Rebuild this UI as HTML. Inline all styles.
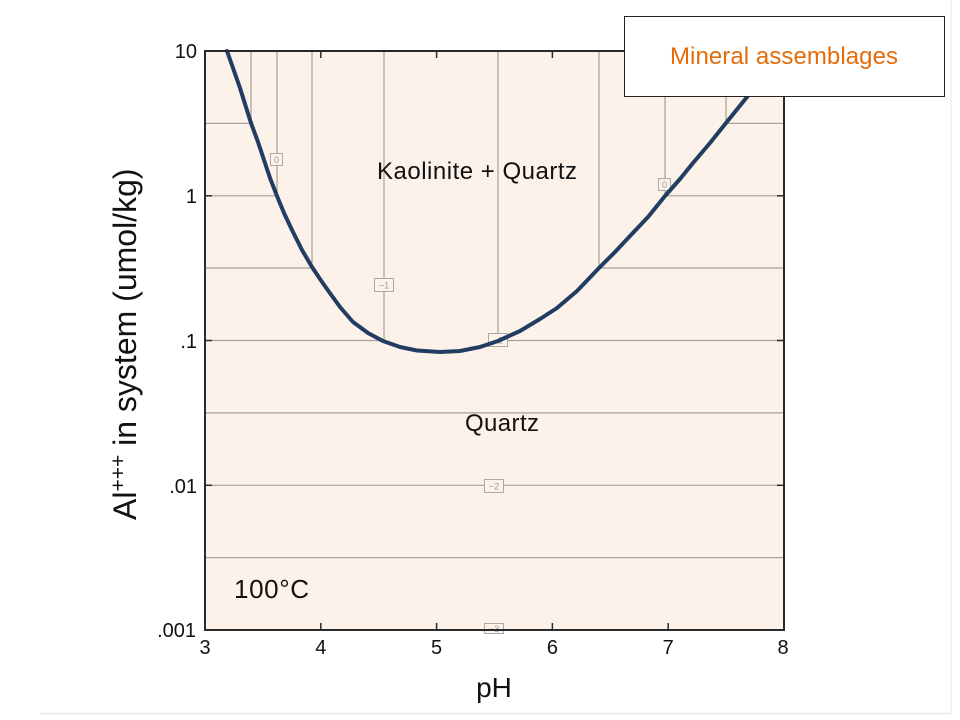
<!DOCTYPE html>
<html>
<head>
<meta charset="utf-8">
<style>
  html, body { margin: 0; padding: 0; background: #ffffff; }
  svg { display: block; }
  text { font-family: "Liberation Sans", Arial, sans-serif; }
</style>
</head>
<body>
<svg width="960" height="720" viewBox="0 0 960 720" xmlns="http://www.w3.org/2000/svg">
  <!-- slide frame -->
  <line x1="40" y1="713.5" x2="951" y2="713.5" stroke="#e6e6e6" stroke-width="1.5"/>
  <line x1="951" y1="0" x2="951" y2="713.5" stroke="#f0f0f0" stroke-width="1.5"/>

  <!-- plot background -->
  <rect x="205" y="51" width="579" height="579" fill="#fdf2ea"/>

  <!-- contour / grid lines -->
  <g stroke="#a8a09a" stroke-width="1.2" fill="none">
    <!-- horizontals -->
    <line x1="205" y1="123.4" x2="251" y2="123.4"/>
    <line x1="726" y1="123.4" x2="784" y2="123.4"/>
    <line x1="205" y1="195.8" x2="277" y2="195.8"/>
    <line x1="665" y1="195.8" x2="784" y2="195.8"/>
    <line x1="205" y1="268" x2="312" y2="268"/>
    <line x1="599" y1="268" x2="784" y2="268"/>
    <line x1="205" y1="340.5" x2="384" y2="340.5"/>
    <line x1="498" y1="340.5" x2="784" y2="340.5"/>
    <line x1="205" y1="412.9" x2="784" y2="412.9"/>
    <line x1="205" y1="485.3" x2="784" y2="485.3"/>
    <line x1="205" y1="557.6" x2="784" y2="557.6"/>
    <!-- verticals -->
    <line x1="251" y1="51" x2="251" y2="123.4"/>
    <line x1="277" y1="51" x2="277" y2="195.8"/>
    <line x1="312" y1="51" x2="312" y2="268"/>
    <line x1="384" y1="51" x2="384" y2="340.5"/>
    <line x1="498" y1="51" x2="498" y2="340.5"/>
    <line x1="599" y1="51" x2="599" y2="268"/>
    <line x1="665" y1="51" x2="665" y2="195.8"/>
    <line x1="726" y1="51" x2="726" y2="123.4"/>
  </g>

  <!-- contour labels -->
  <g font-size="9" fill="#9a9a9a" text-anchor="middle">
    <rect x="270.5" y="153.5" width="12" height="12" fill="#fdf2ea" stroke="#aaa" stroke-width="1"/>
    <text x="276.5" y="163">0</text>
    <rect x="658.5" y="178.5" width="12" height="12" fill="#fdf2ea" stroke="#aaa" stroke-width="1"/>
    <text x="664.5" y="188">0</text>
    <rect x="374.5" y="278.5" width="19" height="13" fill="#fdf2ea" stroke="#aaa" stroke-width="1"/>
    <text x="384" y="288.5">−1</text>
    <rect x="488.5" y="333.5" width="19" height="13" fill="#fdf2ea" stroke="#aaa" stroke-width="1"/>
    <text x="498" y="343.5">−2</text>
    <rect x="484.5" y="479.5" width="19" height="13" fill="#fdf2ea" stroke="#aaa" stroke-width="1"/>
    <text x="494" y="489.5">−2</text>
    <rect x="484.5" y="623.5" width="19" height="10" fill="#fdf2ea" stroke="#aaa" stroke-width="1"/>
    <text x="494" y="632">−3</text>
  </g>

  <!-- saturation curve -->
  <polyline fill="none" stroke="#213d62" stroke-width="4" stroke-linejoin="round" stroke-linecap="round"
    points="227,51 233,68 240,88 245,104 251,123 258,142 264,160 270,178 277,196 284,213 292,230 302,250 312,267 320,279 327,289 340,307 353,322 368,333 383,341 400,347 417,350.5 440,352 460,351 480,347 498,341 520,331 540,319 557,308 577,291 599,268 615,252 630,236 648,217 665,196 680,179 693,163 710,143 726,123 747,97 765,74 783,52"/>

  <!-- axes frame -->
  <rect x="205" y="51" width="579" height="579" fill="none" stroke="#2a2a2a" stroke-width="2"/>

  <!-- ticks -->
  <g stroke="#2a2a2a" stroke-width="1.5">
    <!-- bottom -->
    <line x1="320.8" y1="630" x2="320.8" y2="623"/>
    <line x1="436.6" y1="630" x2="436.6" y2="623"/>
    <line x1="552.4" y1="630" x2="552.4" y2="623"/>
    <line x1="668.2" y1="630" x2="668.2" y2="623"/>
    <!-- top -->
    <line x1="320.8" y1="51" x2="320.8" y2="58"/>
    <line x1="436.6" y1="51" x2="436.6" y2="58"/>
    <line x1="552.4" y1="51" x2="552.4" y2="58"/>
    <line x1="668.2" y1="51" x2="668.2" y2="58"/>
    <!-- left -->
    <line x1="205" y1="195.8" x2="212" y2="195.8"/>
    <line x1="205" y1="340.5" x2="212" y2="340.5"/>
    <line x1="205" y1="485.3" x2="212" y2="485.3"/>
    <!-- right -->
    <line x1="784" y1="195.8" x2="777" y2="195.8"/>
    <line x1="784" y1="340.5" x2="777" y2="340.5"/>
    <line x1="784" y1="485.3" x2="777" y2="485.3"/>
  </g>

  <!-- y tick labels -->
  <g font-size="20" fill="#111" text-anchor="end">
    <text x="197" y="58">10</text>
    <text x="197" y="203">1</text>
    <text x="197" y="348">.1</text>
    <text x="197" y="493">.01</text>
    <text x="196" y="637">.001</text>
  </g>

  <!-- x tick labels -->
  <g font-size="20" fill="#111" text-anchor="middle">
    <text x="205" y="654">3</text>
    <text x="320.8" y="654">4</text>
    <text x="436.6" y="654">5</text>
    <text x="552.4" y="654">6</text>
    <text x="668.2" y="654">7</text>
    <text x="783" y="654">8</text>
  </g>

  <!-- axis titles -->
  <text x="494" y="697" font-size="28" fill="#111" text-anchor="middle">pH</text>
  <text transform="translate(136,520) rotate(-90)" font-size="32" fill="#111">Al<tspan dy="-11" font-size="21">+++</tspan><tspan dy="11"> in system (umol/kg)</tspan></text>

  <!-- region labels -->
  <text x="377" y="179" font-size="24" fill="#111" textLength="200">Kaolinite + Quartz</text>
  <text x="465" y="431" font-size="24" fill="#111" textLength="74">Quartz</text>
  <text x="234" y="598" font-size="26" fill="#111" textLength="75">100°C</text>

  <!-- title box -->
  <rect x="624.5" y="16.5" width="320" height="80" fill="#ffffff" stroke="#222" stroke-width="1"/>
  <text x="784" y="64" font-size="24" fill="#e46c0a" text-anchor="middle" textLength="228">Mineral assemblages</text>
</svg>
</body>
</html>
